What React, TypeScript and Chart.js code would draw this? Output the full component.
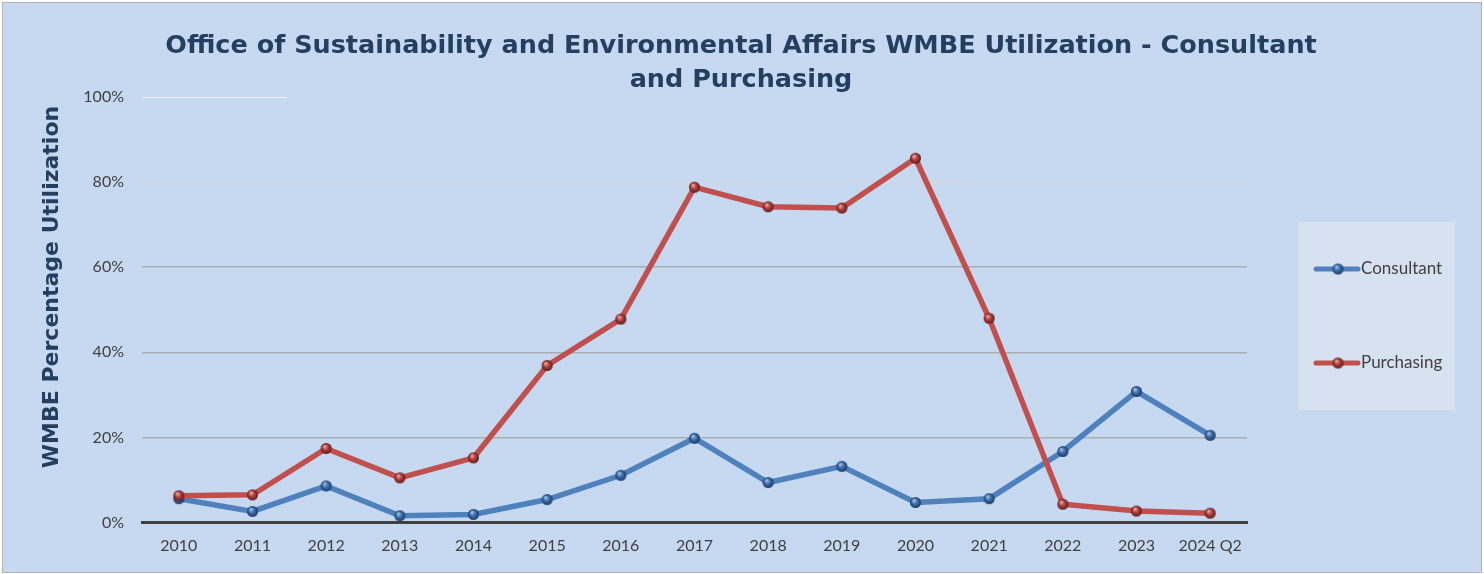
import React, { useEffect, useRef } from 'react';
import { Chart, registerables } from 'chart.js';

Chart.register(...registerables);

const categories = ['2010', '2011', '2012', '2013', '2014', '2015', '2016', '2017', '2018', '2019', '2020', '2021', '2022', '2023', '2024 Q2'];
const consultant = [5.6, 2.6, 8.6, 1.6, 1.9, 5.4, 11.1, 19.8, 9.4, 13.2, 4.7, 5.6, 16.7, 30.8, 20.5];
const purchasing = [6.3, 6.5, 17.4, 10.5, 15.2, 36.9, 47.8, 78.8, 74.2, 73.9, 85.6, 48.0, 4.3, 2.7, 2.2];
const yTickValues = [0, 20, 40, 60, 80, 100];
const seriesNames = ['Consultant', 'Purchasing'];
const titleLines = ['Office of Sustainability and Environmental Affairs WMBE Utilization - Consultant', 'and Purchasing'];
const yAxisTitle = 'WMBE Percentage Utilization';

const BLUE = '#4F81BD';
const RED = '#C0504D';
const TITLE_COLOR = '#243F60';
const TEXT_COLOR = '#404040';
const TICK_FONT = 'Lato';
const TITLE_FONT = '"DejaVu Sans"';

function makeSphere(light: string, mid: string, dark: string, r: number) {
  const c = document.createElement('canvas');
  const size = r * 2 + 2;
  c.width = size;
  c.height = size;
  const g = c.getContext('2d')!;
  const cx = size / 2;
  const cy = size / 2;
  const grad = g.createRadialGradient(cx - r * 0.3, cy - r * 0.4, r * 0.1, cx, cy, r);
  grad.addColorStop(0, light);
  grad.addColorStop(0.45, mid);
  grad.addColorStop(1, dark);
  g.fillStyle = grad;
  g.beginPath();
  g.arc(cx, cy, r, 0, Math.PI * 2);
  g.fill();
  return c;
}

export default function App() {
  const ref = useRef<HTMLCanvasElement | null>(null);

  useEffect(() => {
    const canvas = ref.current;
    if (!canvas) return;
    const blueSphere = makeSphere('#9CC0EA', '#3F6FAA', '#1B3A66', 5.5);
    const redSphere = makeSphere('#EBA5A3', '#B0403D', '#5E1D1B', 5.5);

    const decor = {
      id: 'decor',
      beforeDraw(chart: any) {
        const { ctx, width, height } = chart;
        ctx.save();
        ctx.fillStyle = '#FFFFFF';
        ctx.fillRect(0, 0, width, height);
        ctx.fillStyle = '#C6D9F0';
        ctx.fillRect(3, 3, width - 6, height - 5);
        ctx.strokeStyle = '#B4B4B4';
        ctx.lineWidth = 1;
        ctx.strokeRect(2.5, 2.5, width - 5, height - 4);
        ctx.restore();
      },
      beforeDatasetsDraw(chart: any) {
        const { ctx, chartArea, scales } = chart;
        const y100 = scales.y.getPixelForValue(100);
        ctx.save();
        ctx.strokeStyle = '#F2F2F2';
        ctx.lineWidth = 1;
        ctx.beginPath();
        ctx.moveTo(chartArea.left, Math.round(y100) + 0.5);
        ctx.lineTo(chartArea.left + 145, Math.round(y100) + 0.5);
        ctx.stroke();
        ctx.restore();
      },
      afterDraw(chart: any) {
        const { ctx, chartArea } = chart;
        ctx.save();
        // Title
        ctx.fillStyle = TITLE_COLOR;
        ctx.font = `bold 25.5px ${TITLE_FONT}`;
        ctx.textAlign = 'center';
        ctx.textBaseline = 'alphabetic';
        ctx.fillText(titleLines[0], 741, 53);
        ctx.fillText(titleLines[1], 741, 87);
        // Y axis title
        ctx.save();
        ctx.translate(52, 287);
        ctx.rotate(-Math.PI / 2);
        ctx.font = `bold 22px ${TITLE_FONT}`;
        ctx.textBaseline = 'middle';
        ctx.textAlign = 'center';
        ctx.fillText(yAxisTitle, 0, 0);
        ctx.restore();
        // Legend
        const bx = chartArea.right + 51;
        const by = 222;
        ctx.fillStyle = '#D7E2F1';
        ctx.fillRect(bx, by, 157, 188);
        const items = [
          { name: seriesNames[0], color: BLUE, img: blueSphere, y: 269 },
          { name: seriesNames[1], color: RED, img: redSphere, y: 363 },
        ];
        items.forEach((it) => {
          ctx.strokeStyle = it.color;
          ctx.lineWidth = 5;
          ctx.lineCap = 'round';
          ctx.beginPath();
          ctx.moveTo(bx + 18, it.y);
          ctx.lineTo(bx + 60, it.y);
          ctx.stroke();
          ctx.drawImage(it.img, bx + 40 - it.img.width / 2, it.y - it.img.height / 2);
          ctx.fillStyle = TEXT_COLOR;
          ctx.font = `17px ${TICK_FONT}`;
          ctx.textAlign = 'left';
          ctx.textBaseline = 'middle';
          ctx.fillText(it.name, bx + 63, it.y);
        });
        ctx.restore();
      },
    };

    const chart = new Chart(canvas, {
      type: 'line',
      data: {
        labels: categories,
        datasets: [
          {
            label: seriesNames[0],
            data: consultant,
            borderColor: BLUE,
            borderWidth: 5.5,
            pointStyle: blueSphere as any,
            pointRadius: 5.5,
            tension: 0,
            order: 2,
          },
          {
            label: seriesNames[1],
            data: purchasing,
            borderColor: RED,
            borderWidth: 5.5,
            pointStyle: redSphere as any,
            pointRadius: 5.5,
            tension: 0,
            order: 1,
          },
        ],
      },
      options: {
        responsive: false,
        animation: false,
        layout: { padding: { top: 97, right: 237, left: 0, bottom: 0 } },
        plugins: {
          legend: { display: false },
          title: { display: false },
          tooltip: { enabled: false },
        },
        scales: {
          x: {
            offset: true,
            grid: { display: false, drawTicks: false },
            border: { display: true, color: '#404040', width: 3 },
            ticks: {
              color: TEXT_COLOR,
              font: { family: TICK_FONT, size: 16 },
              padding: 14,
              maxRotation: 0,
              autoSkip: false,
            },
            afterFit: (s: any) => {
              s.height = 51.5;
            },
          },
          y: {
            min: 0,
            max: 100,
            afterBuildTicks: (s: any) => {
              s.ticks = yTickValues.map((v) => ({ value: v }));
            },
            grid: {
              drawTicks: false,
              color: (c: any) => {
                const v = c.tick ? c.tick.value : -1;
                if (v === 0 || v === 100) return 'rgba(0,0,0,0)';
                if (v === 80) return '#D3D6DA';
                return '#A9ADB2';
              },
              lineWidth: 1.5,
            },
            border: { display: false },
            ticks: {
              color: TEXT_COLOR,
              font: { family: TICK_FONT, size: 16 },
              padding: 18,
              callback: (v: any) => `${v}%`,
            },
            afterFit: (s: any) => {
              s.width = 142;
            },
          },
        },
      },
      plugins: [decor],
    });
    return () => chart.destroy();
  }, []);

  return (
    <canvas
      ref={ref}
      width={1484}
      height={574}
      style={{ position: 'fixed', left: 0, top: 0, width: 1484, height: 574 }}
    />
  );
}
